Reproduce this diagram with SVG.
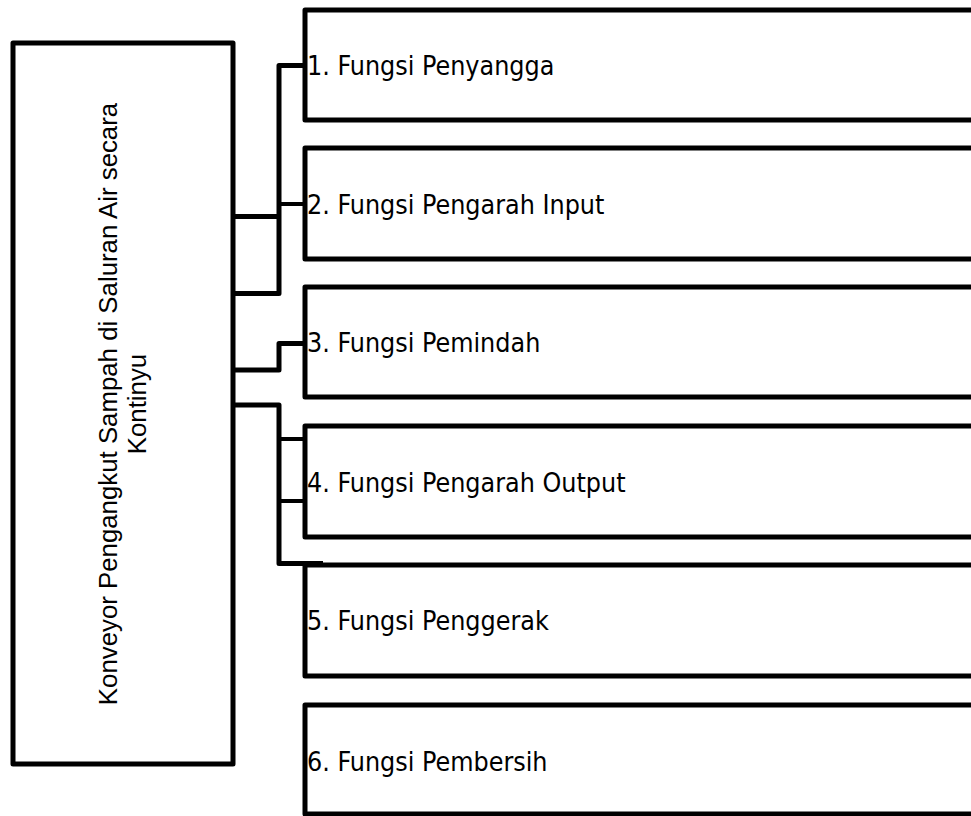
<svg xmlns="http://www.w3.org/2000/svg" width="971" height="816" viewBox="0 0 971 816">
<style>
.box{fill:#fff;stroke:#000;stroke-width:5;stroke-linejoin:round}
.lbl{font-family:"DejaVu Sans Condensed","DejaVu Sans",sans-serif;font-stretch:condensed;font-size:26.6px;fill:#000}
.main{font-family:"Liberation Sans",Arial,sans-serif;font-size:25.8px;fill:#000;text-anchor:middle}
.con{fill:none;stroke:#000;stroke-width:5;stroke-linejoin:round}
.thin{fill:none;stroke:#000;stroke-width:4}
</style>
<rect width="971" height="816" fill="#fff"/>
<g id="main">
<rect class="box" x="13" y="43" width="220" height="721"/>
<text class="main" transform="translate(117,404) rotate(-90)">Konveyor Pengangkut Sampah di Saluran Air secara</text>
<text class="main" transform="translate(146,404) rotate(-90)">Kontinyu</text>
</g>
<g id="f1">
<rect class="box" x="305" y="10" width="700" height="110"/>
<text class="lbl" x="307" y="75">1. Fungsi Penyangga</text>
</g>
<g id="f2">
<rect class="box" x="305" y="148" width="700" height="111"/>
<text class="lbl" x="307" y="214">2. Fungsi Pengarah Input</text>
</g>
<g id="f3">
<rect class="box" x="305" y="287" width="700" height="110"/>
<text class="lbl" x="307" y="352">3. Fungsi Pemindah</text>
</g>
<g id="f4">
<rect class="box" x="305" y="426" width="700" height="111"/>
<text class="lbl" x="307" y="492">4. Fungsi Pengarah Output</text>
</g>
<g id="f5">
<rect class="box" x="305" y="565" width="700" height="111"/>
<text class="lbl" x="307" y="630">5. Fungsi Penggerak</text>
</g>
<g id="f6">
<rect class="box" x="305" y="705" width="700" height="109"/>
<text class="lbl" x="307" y="771">6. Fungsi Pembersih</text>
</g>
<g id="connectors">
<path class="con" d="M233,293.5 H279 V65.5 H305"/>
<path class="con" d="M233,216.5 H279"/>
<path class="thin" d="M279,204 H305"/>
<path class="con" d="M233,370 H279 V343.5 H305"/>
<path class="con" d="M233,405 H279 V563.5 H323"/>
<path class="thin" d="M279,439 H305"/>
<path class="thin" d="M279,501 H305"/>
</g>
</svg>
